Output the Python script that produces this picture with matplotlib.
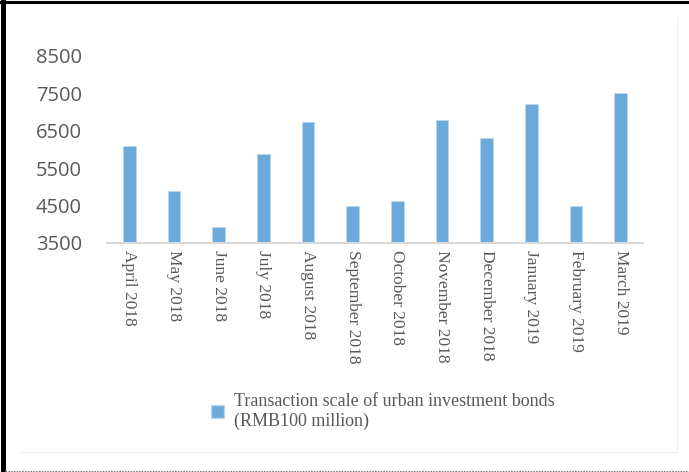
import matplotlib
matplotlib.use('Agg')
import matplotlib.pyplot as plt
from matplotlib.patches import Patch
from matplotlib.lines import Line2D

months = ['April 2018', 'May 2018', 'June 2018', 'July 2018', 'August 2018',
          'September 2018', 'October 2018', 'November 2018', 'December 2018',
          'January 2019', 'February 2019', 'March 2019']
scale = [6100, 4900, 3930, 5890, 6730, 4490, 4630, 6800, 6310, 7220, 4490, 7500]
yticks = [3500, 4500, 5500, 6500, 7500, 8500]
series_name = 'Transaction scale of urban investment bonds\n(RMB100 million)'

bar_color = '#6CAADC'
text_color = '#595959'

fig = plt.figure(figsize=(6.89, 4.72), dpi=100)
ax = fig.add_axes([107/689, 1-243/472, 536/689, (243-56)/472])

x = range(len(months))
ax.bar(x, scale, width=0.29, color=bar_color, edgecolor='#BBD7EE', linewidth=0.6)
ax.set_xlim(-0.5, len(months)-0.5)
ax.set_ylim(3500, 8500)
ax.set_yticks(yticks)
ax.set_yticklabels([str(v) for v in yticks], fontfamily='Open Sans', fontsize=14.5, color=text_color)
ax.set_xticks(list(x))
ax.set_xticklabels(months, rotation=-90, fontfamily='Liberation Serif', fontsize=12.5,
                   color=text_color, va='top', ha='center')
ax.tick_params(axis='both', length=0)
ax.tick_params(axis='y', pad=18)
ax.tick_params(axis='x', pad=5)
for s in ['top', 'right', 'left']:
    ax.spines[s].set_visible(False)
ax.spines['bottom'].set_color('#D9D9D9')
ax.spines['bottom'].set_linewidth(1.5)

fig.legend(handles=[Patch(facecolor=bar_color, edgecolor='#BBD7EE', label=series_name)],
           loc='upper left', bbox_to_anchor=(211/689, 1-393/472), frameon=False,
           prop={'family': 'Liberation Serif', 'size': 13}, labelcolor=text_color,
           borderpad=0, borderaxespad=0, handlelength=0.72, handleheight=0.72,
           handletextpad=0.55)

# outer frame: thick black on left/top, faint chart border, dotted bottom line
fig.add_artist(Line2D([2.5/689, 2.5/689], [0, 1], color='black', linewidth=3.6))
fig.add_artist(Line2D([0, 1], [1-1.5/472, 1-1.5/472], color='black', linewidth=2.2))
fig.add_artist(Line2D([677/689, 677/689], [1-452/472, 1-18/472], color='#F0F0F0', linewidth=0.8))
fig.add_artist(Line2D([18/689, 677/689], [1-452/472, 1-452/472], color='#F0F0F0', linewidth=0.8))
fig.add_artist(Line2D([5/689, 1], [1-471/472, 1-471/472], color='#808080', linewidth=0.8,
                      linestyle=(0, (1.5, 1))))

fig.savefig('out.png', dpi=100)
